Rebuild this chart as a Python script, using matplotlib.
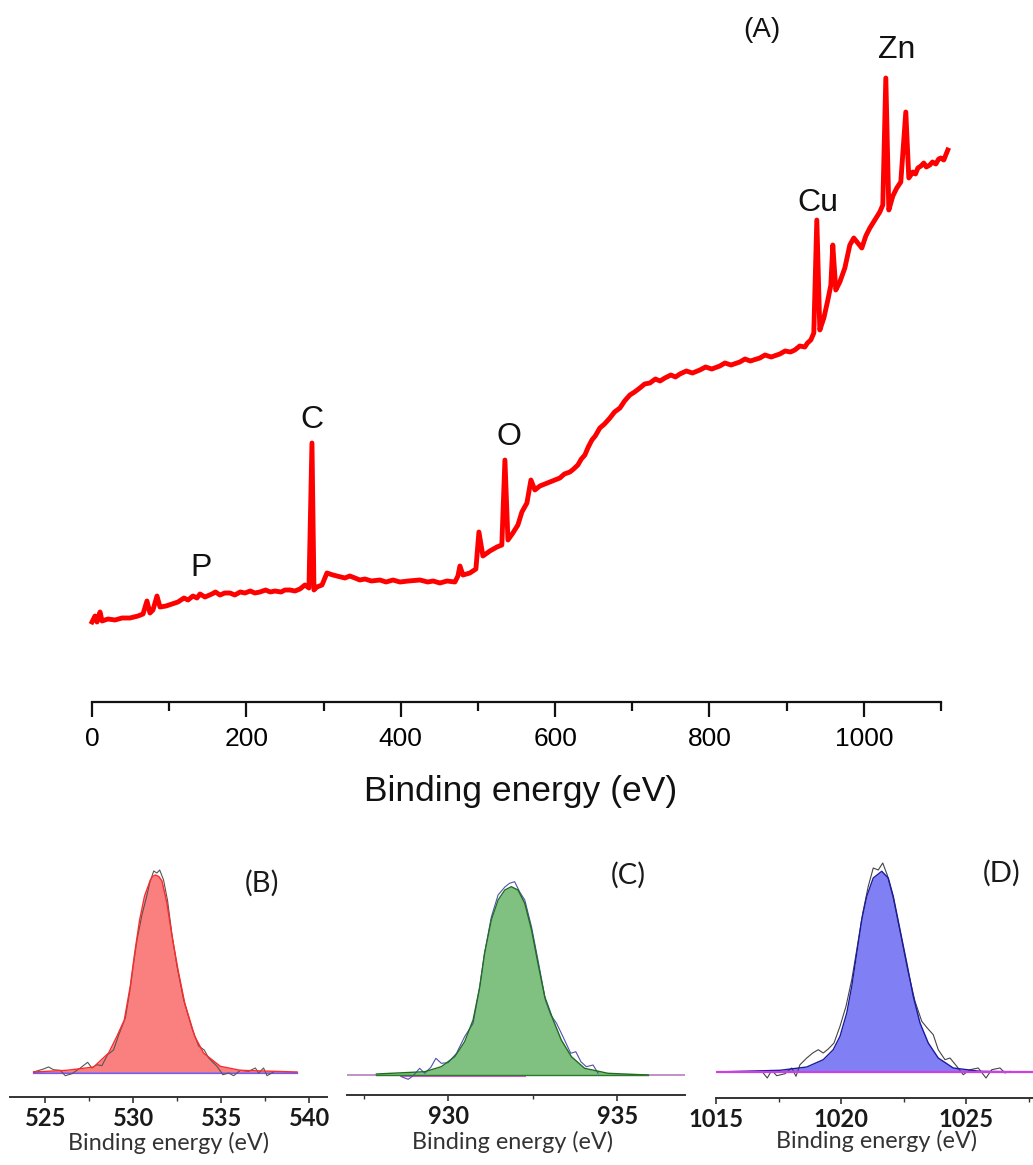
import numpy as np
import matplotlib.pyplot as plt
from matplotlib.ticker import MultipleLocator

W, H = 1033, 1165

# survey spectrum (A): binding energy (eV) vs intensity (a.u.)
survey_ev = [0, 3.9, 6.5, 10.4, 13, 20.7, 29.8, 38.9, 49.2, 59.6, 66.1, 71.2, 75.1, 79, 84.2,
             88.1, 95.9, 103.6, 111.4, 119.2, 124.4, 130.8, 136, 139.9, 146.4,
             155.4, 160, 165.8, 172, 178.8, 185, 192, 198.2, 205, 211, 217.6, 225, 231, 237,
             245, 250, 256.5, 263, 269.4,
             275.9, 281.1, 285, 287.6, 291.5, 298, 304.4, 312.2,
             327.7, 334, 340.7, 347, 353.6, 362, 373, 381, 390, 399, 410, 424.9, 435, 442,
             450.8, 460, 470.2,
             474.1, 476.7, 480.6, 489.6, 497.4, 501.3, 506.5, 515.5, 524.6, 531, 535, 538.9,
             545.3, 551.8, 557, 563.5, 568.7, 573.8, 580.3, 593.3,
             606.2, 612, 619.2, 624, 629.5, 634, 638.6, 643, 647.7, 652, 658, 664, 671, 677,
             684, 690, 696.9, 703, 709.8, 716, 722.8, 730, 736, 742.2, 750, 756, 761.7, 770,
             778, 787.6, 795, 803, 813.5, 820, 828, 839.4, 846, 853, 865.3, 872, 880, 891.2,
             898, 905, 910.6, 917, 923.6, 927,
             931.3, 935.2, 939.1, 943, 948.2, 953.4, 957.3, 959.8, 963.7, 968.9, 975.4, 981.9,
             987, 992.2, 997.4, 1002.6, 1007.8, 1014.2, 1020.7, 1024.6, 1028.5, 1032.4,
             1037.6, 1042.7, 1047.9, 1054.4,
             1058.3, 1063.5, 1067, 1070, 1074, 1077.7, 1081, 1085.5, 1089, 1093.3, 1097,
             1099.7, 1103.6, 1108.8]
survey_int = [80, 86, 80, 90, 81, 83, 82, 84, 84, 86, 88, 101, 89, 92, 106,
              95, 96, 98, 100, 104, 102, 106, 104, 108, 105,
              108, 110, 107, 109, 109, 107, 110, 109, 111, 109, 110, 112, 110, 111,
              110, 112, 112, 111, 113,
              117, 114, 259, 112, 115, 117, 129, 127,
              124, 126, 124, 122, 123, 121, 122, 120, 122, 120, 121, 122, 120, 121,
              119, 121, 120,
              126, 136, 127, 129, 133, 170, 146, 151, 155, 157, 242, 162,
              169, 177, 190, 199, 222, 212, 216, 220,
              224, 228, 230, 233, 237, 243, 247, 255, 262, 266, 274, 278, 284, 290,
              294, 301, 307, 310, 314, 318, 319, 323, 321, 324, 327, 325, 328, 331,
              329, 332, 335, 333, 336, 339, 337, 340, 343, 341, 344, 347, 345, 348,
              351, 350, 352, 356, 355, 359,
              362, 369, 482, 372, 384, 402, 417, 457, 412, 420, 434, 457,
              464, 459, 454, 466, 474, 482, 490, 497, 624, 492,
              506, 514, 520, 590,
              524, 530, 528, 534, 536, 539, 535, 537, 540, 538, 543,
              544, 542, 552]
peak_labels = ["P", "C", "O", "Cu", "Zn"]
peak_label_ev = [141, 285, 540, 940, 1043]
peak_label_int = [134, 282, 265, 499, 652]

# O 1s (B)
o_fit_ev = [524.34, 526.23, 527.75, 528.6, 529.07, 529.49, 529.83, 530.08, 530.36, 530.64,
            530.97, 531.1, 531.25, 531.45, 531.63, 531.91, 532.2, 532.54, 532.92, 533.48,
            533.99, 534.94, 536.08, 539.3]
o_fit_int = [0, 1.7, 5, 19, 35.7, 52, 86, 119, 152, 176, 192, 195.5, 197, 195.5, 191, 169,
             136, 102, 69, 36, 19, 5.7, 1.7, 0]
o_raw_ev = [524.34, 524.9, 525.19, 525.47, 525.85, 526.14, 526.52, 526.99, 527.41, 527.65,
            527.94, 528.22, 528.54, 528.88, 529.17, 529.55, 529.83, 530.02, 530.21, 530.49,
            530.74, 530.93, 531.16, 531.34, 531.5, 531.72, 531.95, 532.2, 532.48, 532.86,
            533.33, 533.71, 534.03, 534.28, 534.75, 535.09, 535.42, 535.7, 536.08, 536.55,
            536.93, 537.12, 537.4, 537.59, 537.97]
o_raw_int = [0, 3, 5, 2.3, 1.7, -3.7, -1.7, 4, 9.7, 4, 7.3, 6.3, 17.3, 22, 37, 54, 84, 109,
             132, 157, 174, 189, 201, 199, 202, 192, 171, 137, 106, 72, 44, 26, 22, 14, 5.7,
             -2.7, -1, -3.7, 1.7, 0.7, 4, -1, 4, -3.7, 0]

# Cu 2p3/2 (C)
cu_fit_ev = [927.87, 929.3, 929.79, 930.19, 930.48, 930.73, 930.93, 931.07, 931.27, 931.47,
             931.67, 931.86, 932.06, 932.26, 932.46, 932.65, 932.85, 933.1, 933.34, 933.64,
             934.03, 934.72, 935.91]
cu_fit_int = [1, 3.3, 8.3, 18.3, 33.3, 55, 88.3, 121.7, 155, 175, 185, 188.3, 185, 171.7,
              145, 111.7, 78.3, 55, 35, 18.3, 6.7, 1.7, 0]
cu_raw_ev = [928.61, 928.81, 928.95, 929.15, 929.3, 929.48, 929.63, 929.79, 929.99, 930.24,
             930.48, 930.73, 930.91, 931.07, 931.27, 931.47, 931.67, 931.81, 931.96, 932.11,
             932.26, 932.46, 932.65, 932.87, 933.03, 933.2, 933.39, 933.62, 933.77, 933.92,
             934.08, 934.28, 934.43]
cu_raw_int = [-1.7, -4.3, -1, 6.7, 1.7, 7.7, 16.7, 11.7, 12.3, 21.7, 38.3, 51.7, 85, 121.7,
              158, 180, 188, 191.7, 193.3, 183, 175, 148, 115, 75, 60, 51.7, 38.3, 21.7,
              23.3, 13.3, 8.3, 10, 1.7]

# Zn 2p3/2 (D)
zn_fit_ev = [1014.96, 1017.56, 1018.63, 1019.29, 1019.69, 1019.96, 1020.23, 1020.43, 1020.63,
             1020.83, 1021.03, 1021.29, 1021.63, 1021.89, 1022.09, 1022.36, 1022.63, 1022.89,
             1023.16, 1023.49, 1023.89, 1024.49, 1025.56, 1027.68]
zn_fit_int = [0, 1.7, 5, 12.3, 22.3, 35.7, 59, 85.7, 119, 152.3, 175.7, 194, 200.7, 194,
              175.7, 142.3, 109, 75.7, 49, 29, 14, 4, 0.7, 0]
zn_raw_ev = [1016.89, 1017.05, 1017.23, 1017.43, 1017.76, 1018.03, 1018.2, 1018.36, 1018.63,
             1018.87, 1019.09, 1019.29, 1019.49, 1019.72, 1019.96, 1020.2, 1020.43, 1020.63,
             1020.87, 1021.09, 1021.29, 1021.49, 1021.67, 1021.85, 1022.09, 1022.36, 1022.65,
             1022.96, 1023.23, 1023.45, 1023.69, 1023.89, 1024.16, 1024.36, 1024.63, 1024.89,
             1025.16, 1025.49, 1025.8, 1026.03, 1026.36, 1026.56, 1026.76]
zn_raw_int = [-1, -6, 1.7, -3.7, -1.7, 4, -4.3, 7.3, 14, 19, 22.3, 19, 23, 29, 45.7, 65.7,
              92.3, 122.3, 159, 185.7, 204, 202, 209, 197, 174, 140.7, 104, 70.7, 50.7, 44,
              37.3, 22.3, 12.3, 14, 5.7, -2.7, 2.3, 4, -6, 2.3, 4, -1, 0.7]


def px_box(x0, x1, y_top, y_bot):
    return [x0 / W, 1 - y_bot / H, (x1 - x0) / W, (y_bot - y_top) / H]


fig = plt.figure(figsize=(W / 100, H / 100), dpi=100)

# ---- (A) survey
ax = fig.add_axes(px_box(92, 941, 0, 702))
ax.patch.set_alpha(0)
ax.plot(survey_ev, survey_int, color='#ff0000', lw=3.5, clip_on=False,
        solid_joinstyle='round')
ax.set_xlim(0, 1100)
ax.set_ylim(0, 702)
for s in ['top', 'left', 'right']:
    ax.spines[s].set_visible(False)
ax.spines['bottom'].set_linewidth(1.6)
ax.spines['bottom'].set_color('#111111')
ax.set_yticks([])
ax.xaxis.set_major_locator(MultipleLocator(200))
ax.xaxis.set_minor_locator(MultipleLocator(100))
ax.tick_params(axis='x', which='major', length=11, width=1.6, labelsize=19, pad=7,
               color='#111111')
ax.tick_params(axis='x', which='minor', length=6.5, width=1.6, color='#111111')
for lab in ax.get_xticklabels():
    lab.set_family('Liberation Sans')
for name, xe, yi in zip(peak_labels, peak_label_ev, peak_label_int):
    ax.text(xe, yi, name, ha='center', va='center', fontsize=23,
            family='Liberation Sans', color='#111111')
ax.text(868, 672, '(A)', ha='center', va='center', fontsize=20,
        family='Liberation Sans', color='#111111')
fig.text(521 / W, 1 - 792 / H, 'Binding energy (eV)', ha='center', va='center',
         fontsize=25.5, family='Liberation Sans', color='#111111')


# ---- core level panels
def core_panel(x0, x1, axis_y, base_y, xlim, fit_ev, fit_int, raw_ev, raw_int,
               fill, edge, raw_col, tag, tag_xy, lab_xy, ticks):
    a = fig.add_axes(px_box(x0, x1, 840, axis_y))
    a.patch.set_alpha(0)
    a.set_xlim(*xlim)
    a.set_ylim(-(axis_y - base_y), base_y - 840)
    a.fill_between(fit_ev, fit_int, 0, color=fill, lw=0, zorder=2)
    a.plot(raw_ev, raw_int, color=raw_col, lw=0.8, zorder=3)
    a.plot(fit_ev, fit_int, color=edge, lw=1.0, zorder=4)
    for s in ['top', 'left', 'right']:
        a.spines[s].set_visible(False)
    a.spines['bottom'].set_linewidth(1.4)
    a.spines['bottom'].set_color('#333333')
    a.set_yticks([])
    a.set_xticks(ticks)
    a.xaxis.set_minor_locator(MultipleLocator(2.5))
    a.tick_params(axis='x', which='major', length=4, width=1.2, labelsize=17, pad=3,
                  color='#333333', labelcolor='#1a1a1a')
    a.tick_params(axis='x', which='minor', length=3, width=1.0, color='#333333')
    for lab in a.get_xticklabels():
        lab.set_family('Lato')
        lab.set_fontweight('bold')
    fig.text(tag_xy[0] / W, 1 - tag_xy[1] / H, tag, ha='center', va='center',
             fontsize=21, family='Lato', color='#1a1a1a')
    fig.text(lab_xy[0] / W, 1 - lab_xy[1] / H, 'Binding energy (eV)', ha='center',
             va='center', fontsize=16.8, family='Lato', color='#333333')
    return a


axb = core_panel(10, 327, 1097, 1072, (523.0, 541.0), o_fit_ev, o_fit_int, o_raw_ev,
                 o_raw_int, '#fa8080', '#ff2a2a', '#555555', '(B)', (262, 883),
                 (168, 1143), [525, 530, 535, 540])
axb.plot([524.34, 539.3], [-0.6, -0.6], color='#6a5cff', lw=1.6, zorder=1)

axc = core_panel(347, 685, 1095, 1075, (927.0, 937.0), cu_fit_ev, cu_fit_int, cu_raw_ev,
                 cu_raw_int, '#80c080', '#1f6e1f', '#5050b0', '(C)', (628, 875),
                 (513, 1142), [930, 935])
axc.plot([927.0, 937.0], [0, 0], color='#c090c8', lw=1.4, zorder=1)
axc.plot([928.6, 932.26], [-1.2, -1.2], color='#ff40ff', lw=1.4, zorder=1)
axc.plot([927.87, 935.91], [0, 0], color='#2a7a2a', lw=1.0, zorder=5)

axd = core_panel(716, 1066, 1098, 1072, (1015.0, 1029.0), zn_fit_ev, zn_fit_int,
                 zn_raw_ev, zn_raw_int, '#8080f4', '#1a1aa0', '#444444', '(D)',
                 (1002, 873), (877, 1141), [1015, 1020, 1025])
axd.plot([1014.96, 1029.0], [0, 0], color='#d040e0', lw=1.6, zorder=5)

fig.savefig('out.png', dpi=100)
